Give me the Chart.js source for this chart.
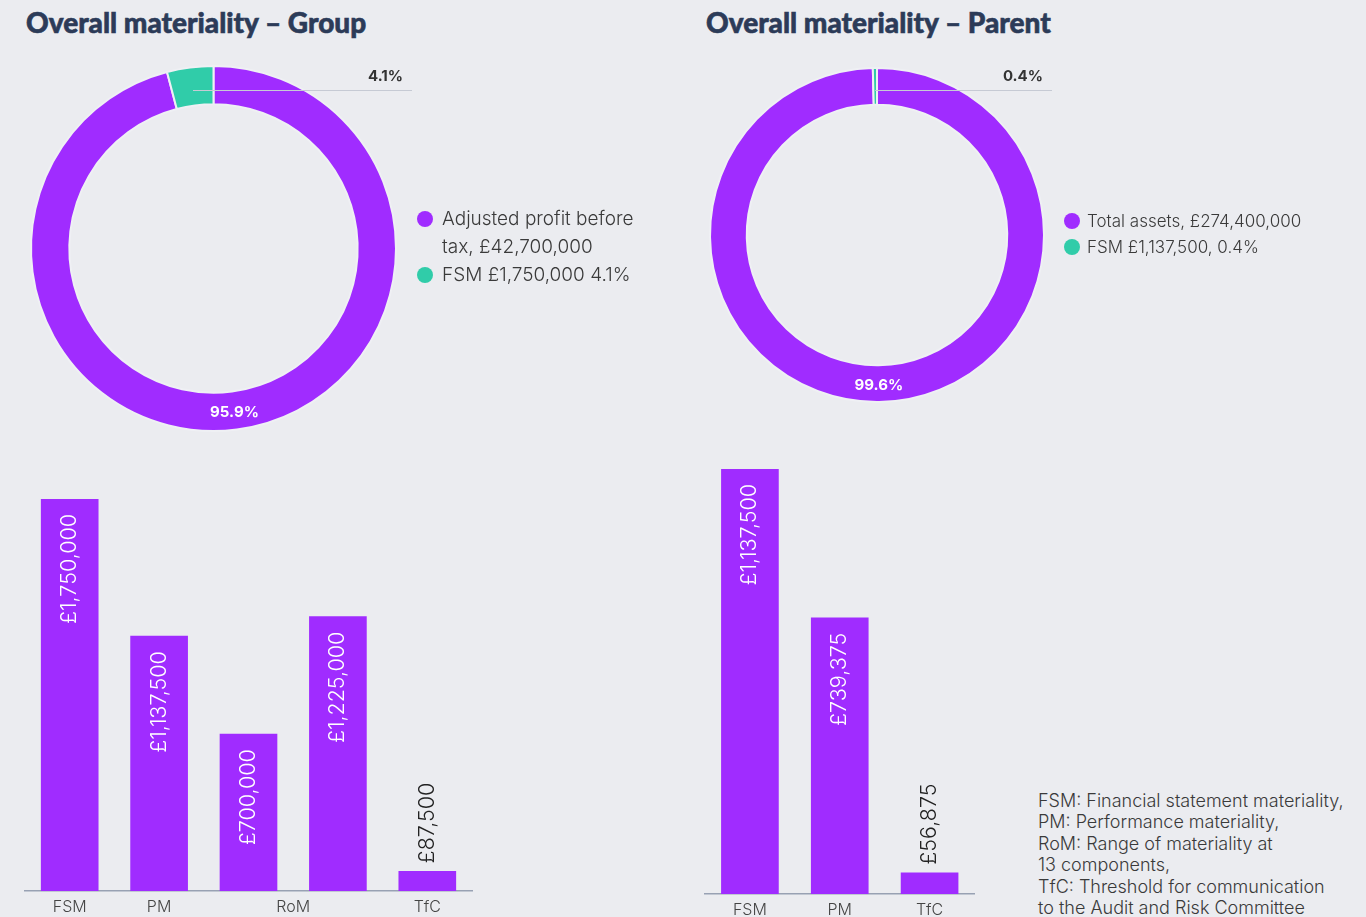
<!DOCTYPE html>
<html>
<head>
<meta charset="utf-8">
<title>Overall materiality</title>
<script src="https://cdn.jsdelivr.net/npm/chart.js@4.4.1/dist/chart.umd.min.js"></script>
<style>
  html, body { margin: 0; padding: 0; }
  body {
    width: 1366px; height: 917px; overflow: hidden; position: relative;
    background: #ebecf0; color: #3a3a3a;
    font-family: Inter, "Noto Sans", sans-serif;
  }
  .title {
    position: absolute; top: 8px; white-space: nowrap;
    font-family: Lato, sans-serif; font-weight: 900; font-size: 28px; line-height: 28px;
    color: #2c3b58; -webkit-text-stroke: 0.6px #2c3b58;
  }
  canvas { position: absolute; }
  .legend { position: absolute; font-weight: 300; }
  .legend .item { display: flex; align-items: flex-start; }
  .legend .dot { width: 16px; height: 16px; border-radius: 50%; flex: none; }
  #groupLegend { left: 417px; top: 205px; font-size: 19px; line-height: 28px; }
  #groupLegend .dot { margin: 6px 9px 0 0; }
  #groupLegend span { width: 210px; }
  #parentLegend { left: 1064px; top: 208px; font-size: 17px; line-height: 26px; white-space: nowrap; }
  #parentLegend .dot { margin: 5px 7px 0 0; }
  .note {
    position: absolute; left: 1038px; top: 790px;
    font-weight: 300; font-size: 18px; line-height: 21.4px; white-space: nowrap;
  }
</style>
</head>
<body>
<div class="title" style="left:26px">Overall materiality – Group</div>
<div class="title" style="left:706px">Overall materiality – Parent</div>

<canvas id="groupRing" width="440" height="400" style="left:0;top:50px"></canvas>
<canvas id="parentRing" width="440" height="400" style="left:680px;top:50px"></canvas>
<div class="legend" id="groupLegend"></div>
<div class="legend" id="parentLegend"></div>

<canvas id="groupBars" width="480" height="447" style="left:0;top:470px"></canvas>
<canvas id="parentBars" width="320" height="477" style="left:680px;top:440px"></canvas>

<div class="note">FSM: Financial statement materiality,<br>PM: Performance materiality,<br>RoM: Range of materiality at<br>13 components,<br>TfC: Threshold for communication<br>to the Audit and Risk Committee</div>

<script>
// shares of the benchmark, in percent
const groupShareLabels = ['Adjusted profit before tax, £42,700,000', 'FSM £1,750,000 4.1%'];
const groupShare = [95.9, 4.1];
const parentShareLabels = ['Total assets, £274,400,000', 'FSM £1,137,500, 0.4%'];
const parentShare = [99.6, 0.4];

// materiality levels in £ (RoM is a range, so it has two bars)
const groupBarLabels = ['FSM', 'PM', 'RoM', 'RoM', 'TfC'];
const groupBarValues = [1750000, 1137500, 700000, 1225000, 87500];
const parentBarLabels = ['FSM', 'PM', 'TfC'];
const parentBarValues = [1137500, 739375, 56875];

const PURPLE = '#a02cff';
const GREEN = '#30cca9';

// percent labels: big slices inside the ring, small ones outside on a leader line
const ringLabels = {
  id: 'ringLabels',
  afterDatasetsDraw(chart, args, opts) {
    const ctx = chart.ctx;
    const data = chart.data.datasets[0].data;
    ctx.save();
    ctx.font = '700 15px Inter';
    ctx.textBaseline = 'middle';
    chart.getDatasetMeta(0).data.forEach((arc, i) => {
      const text = data[i].toFixed(1) + '%';
      if (data[i] >= 10) {
        const p = arc.getCenterPoint();
        ctx.fillStyle = '#fff';
        ctx.textAlign = 'center';
        ctx.fillText(text, p.x, p.y + 2);
      } else {
        const mid = (arc.startAngle + arc.endAngle) / 2;
        const r = arc.innerRadius + 0.4 * (arc.outerRadius - arc.innerRadius);
        const x0 = arc.x + Math.cos(mid) * r;
        const y = Math.round(arc.y + Math.sin(mid) * r) + 0.5;
        const endX = arc.x + arc.outerRadius + opts.reach;
        ctx.strokeStyle = '#c6cad4';
        ctx.lineWidth = 1;
        ctx.beginPath();
        ctx.moveTo(x0, y);
        ctx.lineTo(endX, y);
        ctx.stroke();
        ctx.fillStyle = '#333';
        ctx.textAlign = 'right';
        ctx.fillText(text, endX - 9, y - 14);
      }
    });
    ctx.restore();
  }
};

// vertical value labels: inside the bar when it fits, above it otherwise
const barValues = {
  id: 'barValues',
  afterDatasetsDraw(chart) {
    const ctx = chart.ctx;
    const data = chart.data.datasets[0].data;
    ctx.save();
    ctx.font = '300 21.5px Inter';
    ctx.textBaseline = 'middle';
    chart.getDatasetMeta(0).data.forEach((bar, i) => {
      const text = '£' + data[i].toLocaleString('en-GB');
      const w = ctx.measureText(text).width;
      ctx.save();
      if (bar.base - bar.y > w + 30) {
        ctx.translate(bar.x, bar.y + 15);
        ctx.rotate(-Math.PI / 2);
        ctx.textAlign = 'right';
        ctx.fillStyle = '#fff';
      } else {
        ctx.translate(bar.x, bar.y - 8);
        ctx.rotate(-Math.PI / 2);
        ctx.textAlign = 'left';
        ctx.fillStyle = '#222';
      }
      ctx.fillText(text, 0, 0);
      ctx.restore();
    });
    ctx.restore();
  }
};

function ringChart(id, values, cutout, padding, reach) {
  return new Chart(document.getElementById(id), {
    type: 'doughnut',
    data: {
      datasets: [{
        data: values,
        backgroundColor: [PURPLE, GREEN],
        borderColor: '#eff0f4',
        borderWidth: 2
      }]
    },
    options: {
      responsive: false,
      animation: false,
      cutout,
      layout: { padding },
      plugins: {
        legend: { display: false },
        tooltip: { enabled: false },
        ringLabels: { reach }
      }
    },
    plugins: [ringLabels]
  });
}

function barChart(id, labels, values, padding, axisHeight) {
  // one tick per name, placed under the middle of its bars
  const names = [...new Set(labels)];
  const tickAt = names.map(n => {
    const idx = [];
    labels.forEach((l, i) => { if (l === n) idx.push(i); });
    return idx.reduce((a, b) => a + b, 0) / idx.length;
  });

  return new Chart(document.getElementById(id), {
    type: 'bar',
    data: {
      labels,
      datasets: [{ data: values, backgroundColor: PURPLE, barThickness: 57 }]
    },
    options: {
      responsive: false,
      animation: false,
      layout: { padding },
      plugins: { legend: { display: false }, tooltip: { enabled: false } },
      scales: {
        x: {
          grid: { display: false, drawTicks: false },
          border: { color: '#98a1b3', width: 1.5 },
          ticks: {
            padding: 7,
            color: '#444',
            font: { family: 'Inter', size: 16, weight: '300' },
            maxRotation: 0,
            autoSkip: false,
            callback: (v, i) => names[i]
          },
          afterBuildTicks: s => { s.ticks = tickAt.map(v => ({ value: v })); },
          afterFit: s => { s.height = axisHeight; }
        },
        y: { display: false, min: 0, max: Math.max(...values) }
      }
    },
    plugins: [barValues]
  });
}

function buildLegend(id, labels, colors) {
  const el = document.getElementById(id);
  labels.forEach((text, i) => {
    const row = document.createElement('div');
    row.className = 'item';
    const dot = document.createElement('div');
    dot.className = 'dot';
    dot.style.background = colors[i];
    const span = document.createElement('span');
    span.textContent = text;
    row.append(dot, span);
    el.append(row);
  });
}

ringChart('groupRing', groupShare, '79%', { left: 30, top: 15, right: 43, bottom: 18 }, 16);
ringChart('parentRing', parentShare, '78%', { left: 29, top: 17, right: 75, bottom: 47 }, 8);
buildLegend('groupLegend', groupShareLabels, [PURPLE, GREEN]);
buildLegend('parentLegend', parentShareLabels, [PURPLE, GREEN]);

barChart('groupBars', groupBarLabels, groupBarValues, { left: 25, right: 8, top: 29, bottom: 0 }, 26);
barChart('parentBars', parentBarLabels, parentBarValues, { left: 25, right: 25.5, top: 29, bottom: 0 }, 23);
</script>
</body>
</html>
